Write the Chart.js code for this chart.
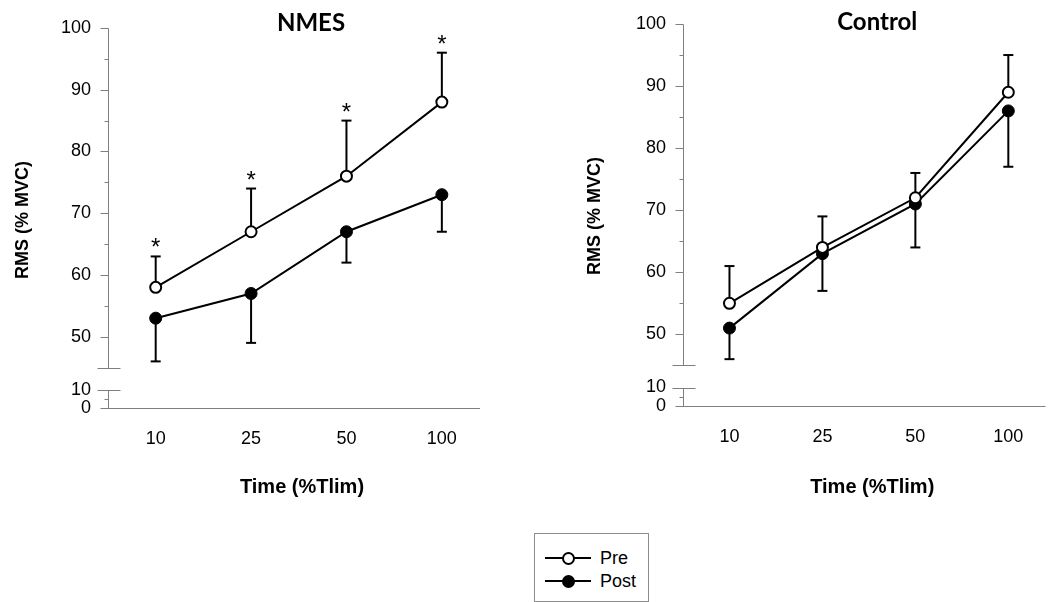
<!DOCTYPE html>
<html>
<head>
<meta charset="utf-8">
<script src="https://cdn.jsdelivr.net/npm/chart.js@4/dist/chart.umd.min.js"></script>
<style>
  body { margin: 0; background: #fff; width: 1053px; height: 602px; position: relative; overflow: hidden;
         font-family: "Liberation Sans", Arial, sans-serif; }
  canvas { position: absolute; top: 0; }
  #nmes { left: 0; }
  #ctrl { left: 525px; }
  #legend { position: absolute; left: 534px; top: 533px; width: 113px; height: 67px;
            border: 1px solid #8c8c8c; background: #fff; }
  .row { position: absolute; left: 0; height: 22px; font-size: 18px; line-height: 22px; color: #000; }
  .row .ln { position: absolute; left: 10px; top: 10px; width: 46px; height: 2px; background: #000; }
  .row .mk { position: absolute; left: 27px; top: 5px; width: 9px; height: 9px; border: 2px solid #000;
             border-radius: 50%; background: #fff; }
  .row .tx { position: absolute; left: 65px; top: 0; }
</style>
</head>
<body>
<canvas id="nmes" width="525" height="510"></canvas>
<canvas id="ctrl" width="528" height="510"></canvas>
<div id="legend">
  <div class="row" style="top:13px"><span class="ln"></span><span class="mk"></span><span class="tx">Pre</span></div>
  <div class="row" style="top:36px"><span class="ln"></span><span class="mk" style="background:#000"></span><span class="tx">Post</span></div>
</div>
<script>
// time points (% of Tlim)
const timeLabels = ["10", "25", "50", "100"];

// NMES group, RMS (% MVC) mean and SD
const nmesPre = [58, 67, 76, 88];
const nmesPreSD = [5, 7, 9, 8];
const nmesPost = [53, 57, 67, 73];
const nmesPostSD = [7, 8, 5, 6];
const nmesSig = [true, true, true, true];

// Control group
const ctrlPre = [55, 64, 72, 89];
const ctrlPreSD = [6, 5, 4, 6];
const ctrlPost = [51, 63, 71, 86];
const ctrlPostSD = [5, 6, 7, 9];
const ctrlSig = [false, false, false, false];

// broken y axis: upper part and lower part
const upperTicks = [50, 60, 70, 80, 90, 100];
const lowerTicks = [0, 10];

const axisGray = "#7f7f7f";
const font = "'Liberation Sans', Arial, sans-serif";

const decor = {
  id: "decor",
  beforeDatasetsDraw(chart, args, o) {
    const ctx = chart.ctx;
    const a = chart.chartArea;
    const yU = chart.scales.y, yL = chart.scales.yLow;
    const L = Math.round(a.left) + 0.5;
    const seg = (x1, y1, x2, y2) => { ctx.beginPath(); ctx.moveTo(x1, y1); ctx.lineTo(x2, y2); ctx.stroke(); };
    const py = (s, v) => Math.round(s.getPixelForValue(v)) + 0.5;
    ctx.save();
    ctx.strokeStyle = axisGray;
    ctx.lineWidth = 1;
    // upper axis + ticks
    seg(L, py(yU, yU.max), L, py(yU, yU.min));
    upperTicks.forEach((v, i) => {
      seg(L - 8, py(yU, v), L, py(yU, v));
      if (i > 0) { const m = (v + upperTicks[i - 1]) / 2; seg(L - 4, py(yU, m), L, py(yU, m)); }
    });
    seg(L - 11, py(yU, yU.min), L + 12, py(yU, yU.min));
    // lower axis
    const top = lowerTicks[lowerTicks.length - 1];
    seg(L, py(yL, top), L, py(yL, 0));
    seg(L - 11, py(yL, top), L + 12, py(yL, top));
    const mid = (lowerTicks[0] + top) / 2;
    seg(L - 4, py(yL, mid), L, py(yL, mid));
    // x axis
    seg(L - 8, py(yL, 0), a.right, py(yL, 0));

    // error bars (one sided)
    ctx.strokeStyle = "#000";
    ctx.lineWidth = 2;
    chart.data.datasets.forEach((ds, di) => {
      const meta = chart.getDatasetMeta(di);
      ds.data.forEach((p, j) => {
        const x = meta.data[j].x;
        const y0 = yU.getPixelForValue(p.y);
        const y1 = yU.getPixelForValue(p.y + ds.errDir * ds.sd[j]);
        seg(x, y0, x, y1);
        seg(x - 5, y1, x + 5, y1);
      });
    });
    ctx.restore();
  },
  afterDraw(chart, args, o) {
    const ctx = chart.ctx;
    const a = chart.chartArea;
    const yU = chart.scales.y;
    ctx.save();
    ctx.fillStyle = "#000";
    // significance asterisks above the Pre error bars
    const pre = chart.data.datasets[0];
    const meta = chart.getDatasetMeta(0);
    ctx.font = "24px " + font;
    ctx.textAlign = "center";
    ctx.textBaseline = "alphabetic";
    pre.data.forEach((p, j) => {
      if (!o.sig[j]) return;
      const cap = yU.getPixelForValue(p.y + pre.sd[j]);
      ctx.fillText("*", meta.data[j].x, cap - 1);
    });
    // panel title
    ctx.font = "bold 24px Lato, 'Open Sans', sans-serif";
    ctx.textBaseline = "middle";
    ctx.fillText(o.title, (a.left + a.right) / 2 + o.titleDx, o.titleY);
    // axis titles
    ctx.font = "bold 20px " + font;
    ctx.fillText("Time (%Tlim)", (a.left + a.right) / 2 + 8, 487);
    ctx.translate(a.left - o.yTitleGap, o.yTitleY);
    ctx.rotate(-Math.PI / 2);
    ctx.font = "bold 18px " + font;
    ctx.fillText("RMS (% MVC)", 0, 0);
    ctx.restore();
  }
};

function makePanel(id, pre, preSD, post, postSD, sig, opts) {
  const pts = arr => arr.map((v, i) => ({ x: i + 1, y: v }));
  new Chart(document.getElementById(id), {
    type: "line",
    data: {
      datasets: [
        { label: "Pre", data: pts(pre), sd: preSD, errDir: 1, yAxisID: "y",
          borderColor: "#000", borderWidth: 2, backgroundColor: "#fff",
          pointRadius: 5.5, pointBorderWidth: 2, pointBackgroundColor: "#fff", pointBorderColor: "#000" },
        { label: "Post", data: pts(post), sd: postSD, errDir: -1, yAxisID: "y",
          borderColor: "#000", borderWidth: 2, backgroundColor: "#000",
          pointRadius: 6, pointBorderWidth: 1, pointBackgroundColor: "#000", pointBorderColor: "#000" }
      ]
    },
    options: {
      responsive: false,
      animation: false,
      devicePixelRatio: 1,
      layout: { padding: opts.padding },
      plugins: {
        legend: { display: false },
        tooltip: { enabled: false },
        decor: { sig: sig, title: opts.title, titleDx: opts.titleDx, titleY: opts.titleY,
                 yTitleGap: opts.yTitleGap, yTitleY: opts.yTitleY }
      },
      scales: {
        x: {
          type: "linear", min: 0.5, max: 4.4,
          afterBuildTicks: s => { s.ticks = timeLabels.map((t, i) => ({ value: i + 1 })); },
          afterFit: s => { s.height = opts.xHeight; },
          grid: { display: false, drawTicks: false },
          border: { display: false },
          ticks: { padding: 20, color: "#000", font: { family: font, size: 18 },
                   callback: v => timeLabels[v - 1] }
        },
        yLow: {
          type: "linear", position: "left", stack: "rms", stackWeight: 1, min: 0, max: 22,
          afterBuildTicks: s => { s.ticks = lowerTicks.map(v => ({ value: v })); },
          afterFit: s => { s.width = 80; },
          grid: { display: true, drawOnChartArea: false, tickLength: 8, color: "transparent" },
          border: { display: false },
          ticks: { padding: 9, color: "#000", font: { family: font, size: 18 } }
        },
        y: {
          type: "linear", position: "left", stack: "rms", stackWeight: 8.4, min: 45, max: 100,
          afterBuildTicks: s => { s.ticks = upperTicks.map(v => ({ value: v })); },
          afterFit: s => { s.width = 80; },
          grid: { display: true, drawOnChartArea: false, tickLength: 8, color: "transparent" },
          border: { display: false },
          ticks: { padding: 9, color: "#000", font: { family: font, size: 18 } }
        }
      }
    },
    plugins: [decor]
  });
}

makePanel("nmes", nmesPre, nmesPreSD, nmesPost, nmesPostSD, nmesSig, {
  padding: { left: 28, right: 45, top: 28, bottom: 0 }, xHeight: 102,
  title: "NMES", titleDx: 17, titleY: 23, yTitleGap: 85, yTitleY: 220
});
makePanel("ctrl", ctrlPre, ctrlPreSD, ctrlPost, ctrlPostSD, ctrlSig, {
  padding: { left: 78, right: 0, top: 24, bottom: 0 }, xHeight: 104,
  title: "Control", titleDx: 13, titleY: 22, yTitleGap: 88, yTitleY: 216
});
</script>
</body>
</html>
